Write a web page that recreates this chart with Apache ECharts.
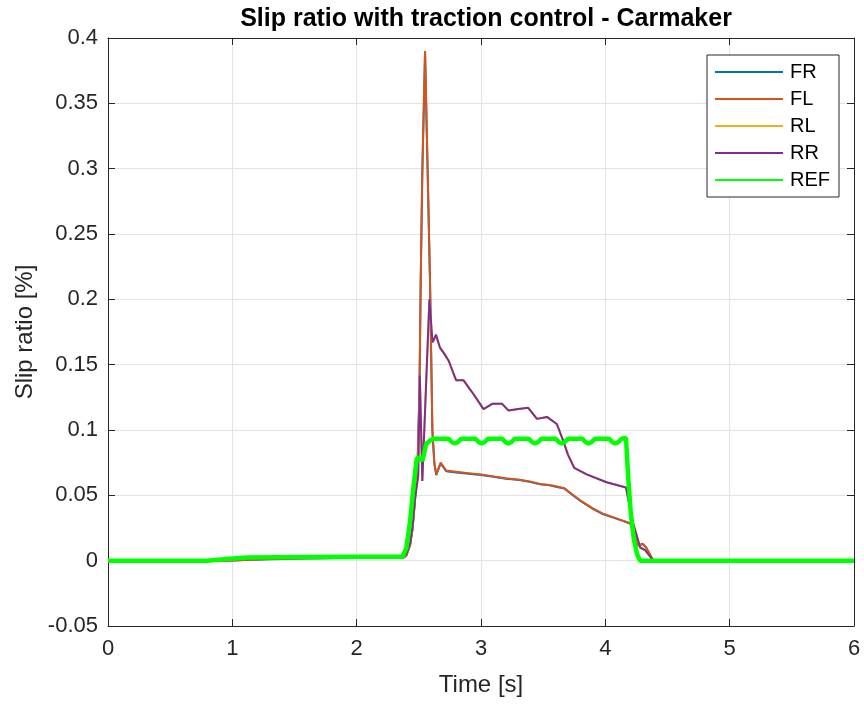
<!DOCTYPE html>
<html>
<head>
<meta charset="utf-8">
<script src="https://cdn.jsdelivr.net/npm/echarts@6/dist/echarts.min.js"></script>
<style>
html,body{margin:0;padding:0;background:#fff;}
#chart{width:864px;height:704px;}
</style>
</head>
<body>
<div id="chart"></div>
<script>
// ---- data ----
const seriesNames = ['FR', 'FL', 'RL', 'RR', 'REF'];
const xTicks = [0, 1, 2, 3, 4, 5, 6];
const yTicks = [-0.05, 0, 0.05, 0.1, 0.15, 0.2, 0.25, 0.3, 0.35, 0.4];

const tFR = [0, 0.95, 1.1, 1.3, 1.6, 2.0, 2.38, 2.40, 2.43, 2.45, 2.47, 2.49, 2.505, 2.515, 2.528, 2.55, 2.571, 2.59, 2.609, 2.625, 2.64, 2.675, 2.72, 2.80, 2.90, 3.00, 3.10, 3.20, 3.31, 3.40, 3.475, 3.55, 3.62, 3.67, 3.73, 3.80, 3.90, 3.98, 4.10, 4.20, 4.235, 4.265, 4.30, 4.33, 4.386, 6];
const vFR = [0, 0, 0.0005, 0.0011, 0.0017, 0.0021, 0.0024, 0.004, 0.012, 0.025, 0.047, 0.074, 0.129, 0.213, 0.297, 0.389, 0.297, 0.213, 0.099, 0.074, 0.0655, 0.0745, 0.0685, 0.0675, 0.0665, 0.0655, 0.0642, 0.0627, 0.0617, 0.0602, 0.0584, 0.0577, 0.0562, 0.0552, 0.0507, 0.0457, 0.0397, 0.0357, 0.0318, 0.0284, 0.0198, 0.0114, 0.0128, 0.0098, 0, 0];

const tFL = [0, 0.95, 1.1, 1.3, 1.6, 2.0, 2.38, 2.40, 2.43, 2.45, 2.47, 2.49, 2.505, 2.515, 2.528, 2.55, 2.571, 2.59, 2.609, 2.625, 2.64, 2.675, 2.72, 2.80, 2.90, 3.00, 3.10, 3.20, 3.31, 3.40, 3.475, 3.55, 3.62, 3.67, 3.73, 3.80, 3.90, 3.98, 4.10, 4.20, 4.235, 4.265, 4.30, 4.33, 4.386, 6];
const vFL = [0, 0, 0.0006, 0.0012, 0.0018, 0.0022, 0.0025, 0.004, 0.012, 0.025, 0.048, 0.075, 0.13, 0.214, 0.298, 0.39, 0.298, 0.214, 0.10, 0.075, 0.066, 0.075, 0.069, 0.068, 0.067, 0.066, 0.0645, 0.063, 0.062, 0.0605, 0.0587, 0.058, 0.0565, 0.0555, 0.051, 0.046, 0.040, 0.036, 0.032, 0.0286, 0.02, 0.0115, 0.013, 0.010, 0, 0];

const tRL = [0, 0.8, 0.95, 1.1, 1.5, 2.0, 2.37, 2.40, 2.43, 2.45, 2.47, 2.495, 2.508, 2.528, 2.585, 2.61, 2.638, 2.67, 2.70, 2.74, 2.80, 2.86, 2.95, 3.02, 3.09, 3.17, 3.22, 3.30, 3.38, 3.45, 3.53, 3.61, 3.66, 3.70, 3.75, 3.85, 4.01, 4.166, 4.22, 4.28, 4.32, 4.386, 6];
const vRL = [0, 0, 0.0015, 0.0025, 0.003, 0.003, 0.003, 0.005, 0.013, 0.026, 0.048, 0.065, 0.141, 0.061, 0.199, 0.167, 0.172, 0.163, 0.159, 0.153, 0.138, 0.138, 0.126, 0.116, 0.120, 0.120, 0.115, 0.116, 0.117, 0.1085, 0.110, 0.1046, 0.092, 0.081, 0.071, 0.066, 0.060, 0.056, 0.03, 0.010, 0.008, 0, 0];

const tRR = [0, 0.8, 0.95, 1.1, 1.5, 2.0, 2.37, 2.40, 2.43, 2.45, 2.47, 2.495, 2.508, 2.528, 2.585, 2.61, 2.638, 2.67, 2.70, 2.74, 2.80, 2.86, 2.95, 3.02, 3.09, 3.17, 3.22, 3.30, 3.38, 3.45, 3.53, 3.61, 3.66, 3.70, 3.75, 3.85, 4.01, 4.166, 4.22, 4.28, 4.32, 4.386, 6];
const vRR = [0, 0, 0.0015, 0.0025, 0.003, 0.003, 0.003, 0.005, 0.013, 0.026, 0.048, 0.065, 0.1416, 0.061, 0.200, 0.167, 0.173, 0.163, 0.159, 0.153, 0.138, 0.138, 0.126, 0.116, 0.120, 0.120, 0.115, 0.116, 0.117, 0.1085, 0.110, 0.1046, 0.092, 0.081, 0.071, 0.066, 0.060, 0.056, 0.03, 0.010, 0.008, 0, 0];

const tREF = [0, 0.8, 0.93, 1.12, 1.6, 2.0, 2.37, 2.40, 2.43, 2.456, 2.483, 2.50, 2.53, 2.558, 2.59, 2.617,
  2.74, 2.765, 2.79, 2.815, 2.84,
  2.955, 2.98, 3.005, 3.03, 3.055,
  3.17, 3.195, 3.22, 3.245, 3.27,
  3.385, 3.41, 3.435, 3.46, 3.485,
  3.60, 3.625, 3.65, 3.675, 3.70,
  3.815, 3.84, 3.865, 3.89, 3.915,
  4.03, 4.055, 4.08, 4.105, 4.13,
  4.166, 4.185, 4.205, 4.23, 4.255, 4.28, 6];
const vREF = [0, 0, 0.001, 0.0025, 0.0028, 0.003, 0.003, 0.01, 0.0306, 0.056, 0.078, 0.079, 0.0766, 0.089, 0.092, 0.0933,
  0.0933, 0.0908, 0.0896, 0.0908, 0.0933,
  0.0933, 0.0908, 0.0896, 0.0908, 0.0933,
  0.0933, 0.0908, 0.0896, 0.0908, 0.0933,
  0.0933, 0.0908, 0.0896, 0.0908, 0.0933,
  0.0933, 0.0908, 0.0896, 0.0908, 0.0933,
  0.0933, 0.0908, 0.0896, 0.0908, 0.0933,
  0.0933, 0.0908, 0.0896, 0.0908, 0.0933,
  0.094, 0.062, 0.036, 0.016, 0.005, 0, 0];

const colors = ['#0072BD', '#D95319', '#EDB120', '#7E2F8E', '#00FF00'];
const widths = [2, 2, 2, 2, 4.5];

// ---- build ----
const times = [tFR, tFL, tRL, tRR, tREF];
const values = [vFR, vFL, vRL, vRR, vREF];
const pair = (t, v) => t.map((x, i) => [x, v[i]]);

const FONT = "'Liberation Sans', Arial, Helvetica, sans-serif";
const AX = '#262626';

const chart = echarts.init(document.getElementById('chart'), null, {renderer: 'canvas'});

function xAx(pos, labels) {
  return {
    type: 'value', position: pos, min: xTicks[0], max: xTicks[xTicks.length - 1], interval: 1,
    axisLine: {show: true, onZero: false, lineStyle: {color: AX, width: 1}},
    axisTick: {show: true, inside: true, length: 7, lineStyle: {color: AX}},
    axisLabel: {show: labels, color: AX, fontSize: 22, fontFamily: FONT, margin: 12},
    splitLine: {show: labels, lineStyle: {color: '#e3e3e3', width: 1}},
    name: labels ? 'Time [s]' : '', nameLocation: 'middle', nameGap: 47,
    nameTextStyle: {color: AX, fontSize: 24, fontFamily: FONT}
  };
}
function yAx(pos, labels) {
  return {
    type: 'value', position: pos, min: yTicks[0], max: yTicks[yTicks.length - 1], interval: 0.05,
    axisLine: {show: true, onZero: false, lineStyle: {color: AX, width: 1}},
    axisTick: {show: true, inside: true, length: 7, lineStyle: {color: AX}},
    axisLabel: {show: labels, color: AX, fontSize: 22, fontFamily: FONT, margin: 10},
    splitLine: {show: labels, lineStyle: {color: '#e3e3e3', width: 1}},
    name: labels ? 'Slip ratio [%]' : '', nameLocation: 'middle', nameGap: 71, nameRotate: 90,
    nameTextStyle: {color: AX, fontSize: 24, fontFamily: FONT}
  };
}

chart.setOption({
  animation: false,
  backgroundColor: '#ffffff',
  title: {
    text: 'Slip ratio with traction control - Carmaker',
    left: 481, top: 2, textAlign: 'center',
    textStyle: {color: '#000', fontSize: 25, fontWeight: 'bold', fontFamily: FONT}
  },
  grid: {left: 108, right: 10, top: 38, bottom: 78, containLabel: false},
  xAxis: [xAx('bottom', true), xAx('top', false)],
  yAxis: [yAx('left', true), yAx('right', false)],
  legend: {
    orient: 'vertical', left: 707, top: 55,
    padding: [7, 9, 7, 7], itemGap: 7, itemWidth: 68, itemHeight: 14,
    borderColor: AX, borderWidth: 1, backgroundColor: '#fff',
    itemStyle: {opacity: 0, color: 'rgba(0,0,0,0)', borderWidth: 0},
    textStyle: {color: '#000', fontSize: 20, fontFamily: FONT, lineHeight: 20, padding: [0, 0, 0, 2]},
    data: seriesNames
  },
  series: seriesNames.map((n, i) => ({
    name: n, type: 'line', xAxisIndex: 0, yAxisIndex: 0,
    data: pair(times[i], values[i]),
    symbol: 'none', showSymbol: false, smooth: false,
    lineStyle: {color: colors[i], width: widths[i]},
    itemStyle: {color: colors[i]},
    z: 2 + i
  }))
});
</script>
</body>
</html>
